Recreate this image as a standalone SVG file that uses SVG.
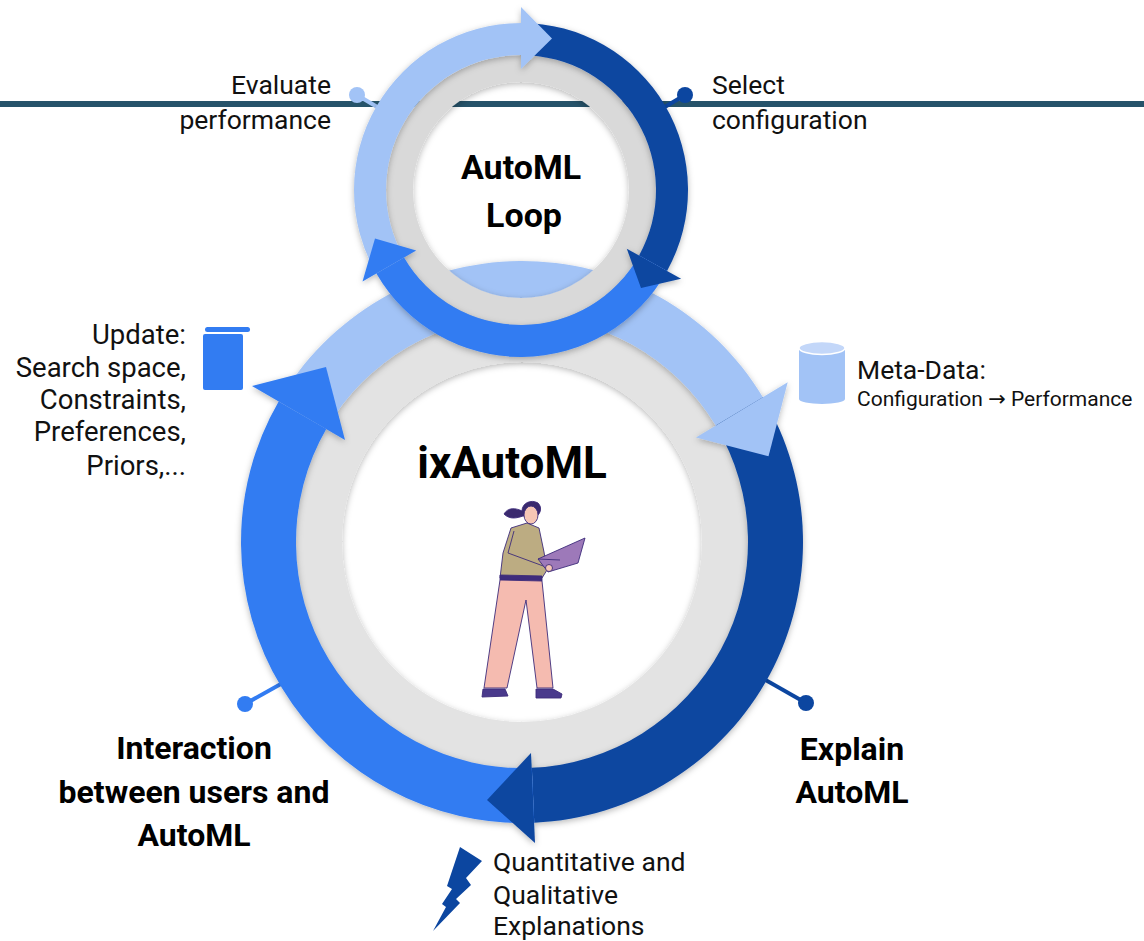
<svg xmlns="http://www.w3.org/2000/svg" width="1144" height="941" viewBox="0 0 1144 941">
  <defs>
    <filter id="shadow" x="-20%" y="-20%" width="140%" height="140%">
      <feDropShadow dx="0" dy="2" stdDeviation="3" flood-color="#000" flood-opacity="0.28"/>
    </filter>
    <style>
      .lbl { font-family: Roboto, "Liberation Sans", sans-serif; font-size: 26.5px; fill: #111; }
      .lbl-lg { font-family: Roboto, "Liberation Sans", sans-serif; font-size: 27.5px; fill: #111; }
      .lbl-sm { font-family: Roboto, "Liberation Sans", sans-serif; font-size: 21px; fill: #111; }
      .arrow-glyph { font-family: "DejaVu Sans", sans-serif; }
      .bold { font-family: Roboto, "Liberation Sans", sans-serif; font-weight: bold; fill: #000; }
      .light { fill: #a2c3f6; }
      .mid { fill: #327cf2; }
      .dark { fill: #0c46a0; }
      .conn { stroke-width: 4; fill: none; }
      .fig { stroke: #3d2b7a; stroke-width: 0.9; stroke-linejoin: round; }
    </style>
  </defs>

  <rect width="1144" height="941" fill="#fff"/>

  <!-- timeline bar -->
  <rect x="0" y="101" width="1144" height="6" fill="#26536a"/>

  <!-- connectors from labels to the rings -->
  <g id="connectors">
    <line class="conn" x1="357" y1="95" x2="384" y2="111" stroke="#a2c3f6"/>
    <circle cx="357" cy="95" r="8" class="light"/>
    <line class="conn" x1="685" y1="95" x2="658" y2="111" stroke="#0c46a0"/>
    <circle cx="685" cy="95" r="8" class="dark"/>
    <line class="conn" x1="245" y1="704" x2="288" y2="680" stroke="#327cf2"/>
    <circle cx="245" cy="704" r="8" class="mid"/>
    <line class="conn" x1="806" y1="703" x2="762" y2="678" stroke="#0c46a0"/>
    <circle cx="806" cy="703" r="8" class="dark"/>
  </g>

  <!-- outer ixAutoML cycle -->
  <g id="ixautoml-ring">
    <circle cx="522" cy="542" r="203" fill="none" stroke="#e3e3e3" stroke-width="46" filter="url(#shadow)"/>
    <g filter="url(#shadow)">
      <path class="light" d="M 278.65,401.5 A 281 281 0 0 1 762.86,397.27 L 715.72,425.6 A 226 226 0 0 0 326.28,429 Z"/>
      <path class="dark" d="M 762.86,397.27 A 281 281 0 0 1 534.26,822.73 L 531.86,767.79 A 226 226 0 0 0 715.72,425.6 Z"/>
      <path class="mid" d="M 534.26,822.73 A 281 281 0 0 1 278.65,401.5 L 326.28,429 A 226 226 0 0 0 531.86,767.79 Z"/>
      <polygon class="light" points="787.7,382.3 696,437.4 768.5,456.2"/>
      <polygon class="dark" points="531,753 535,843 487,800"/>
      <polygon class="mid" points="252,386 345,440 326,367"/>
    </g>
  </g>

  <!-- person with laptop -->
  <g id="person">
    <path class="fig" fill="#3a2a6e" d="M 504,514 C 508,507 516,508 522,511 C 522,503 531,499 538,503 C 543,508 540,515 535,517 L 523,516 C 517,518 510,520 504,514 Z"/>
    <ellipse class="fig" cx="531" cy="515" rx="7" ry="9" fill="#f6c6b5"/>
    <path class="fig" fill="#bcac82" d="M 511,528 L 527,523 L 539,528 L 544,552 L 547,570 L 542,578 L 500,578 L 503,553 Z"/>
    <path class="fig" fill="none" d="M 514,531 L 508,553 L 546,567"/>
    <polygon class="fig" fill="#9d79b9" points="538,559 585,538 578,563 548,572"/>
    <line class="fig" x1="538" y1="559" x2="560" y2="560"/>
    <circle class="fig" cx="549" cy="568" r="3.5" fill="#f6c6b5"/>
    <polygon class="fig" fill="#3e2c7c" points="500,575 542,576 542,581 500,580"/>
    <path class="fig" fill="#f5bbb0" d="M 500,580 L 542,581 L 553,688 L 537,688 L 526,600 L 507,688 L 484,688 Z"/>
    <path class="fig" fill="#4a3a8c" d="M 483,689 L 505,689 L 508,696 L 482,697 Z"/>
    <path class="fig" fill="#4a3a8c" d="M 536,689 L 553,689 L 562,694 L 561,698 L 536,698 Z"/>
  </g>

  <!-- inner AutoML loop -->
  <g id="automl-loop">
    <circle cx="521" cy="190" r="121.5" fill="none" stroke="#d9d9d9" stroke-width="27" filter="url(#shadow)"/>
    <g filter="url(#shadow)">
      <path class="light" d="M 376.37,273.5 A 167 167 0 0 1 521,23 L 521,55 A 135 135 0 0 0 404.09,257.5 Z"/>
      <path class="dark" d="M 521,23 A 167 167 0 0 1 667.06,270.96 L 639.07,255.45 A 135 135 0 0 0 521,55 Z"/>
      <path class="mid" d="M 667.06,270.96 A 167 167 0 0 1 376.37,273.5 L 404.09,257.5 A 135 135 0 0 0 639.07,255.45 Z"/>
      <polygon class="light" points="521,7 521,69 552,38.5"/>
      <polygon class="dark" points="626.8,248.7 681.1,278.7 641,288"/>
      <polygon class="mid" points="416.2,250.5 362.5,281.5 375,238.5"/>
    </g>
    <text class="bold" font-size="34" text-anchor="middle" x="521" y="179">AutoML</text>
    <text class="bold" font-size="34" text-anchor="middle" x="524" y="227">Loop</text>
  </g>

  <g id="ixautoml-title">
    <text class="bold" font-size="44" text-anchor="middle" x="512" y="478">ixAutoML</text>
  </g>

  <!-- evaluate / select -->
  <g id="evaluate">
    <text class="lbl" text-anchor="end" x="331" y="94">Evaluate</text>
    <text class="lbl" text-anchor="end" x="331" y="129">performance</text>
  </g>
  <g id="select">
    <text class="lbl" x="712" y="94">Select</text>
    <text class="lbl" x="712" y="129">configuration</text>
  </g>

  <!-- update list with book icon -->
  <g id="update">
    <rect x="205" y="327" width="45" height="5" rx="2.5" class="mid"/>
    <rect x="203" y="334" width="40" height="56" rx="2" class="mid"/>
    <text class="lbl-lg" text-anchor="end" x="186" y="344">Update:</text>
    <text class="lbl-lg" text-anchor="end" x="186" y="377">Search space,</text>
    <text class="lbl-lg" text-anchor="end" x="186" y="409">Constraints,</text>
    <text class="lbl-lg" text-anchor="end" x="186" y="441">Preferences,</text>
    <text class="lbl-lg" text-anchor="end" x="186" y="475">Priors,...</text>
  </g>

  <!-- meta-data with database icon -->
  <g id="metadata">
    <path class="light" d="M 799,348 L 799,399 A 23 5 0 0 0 845,399 L 845,348 Z"/>
    <ellipse cx="822" cy="348" rx="23" ry="6.5" fill="#c3d7f9" stroke="#fff" stroke-width="1.5"/>
    <text class="lbl" x="857" y="379">Meta-Data:</text>
    <text class="lbl-sm" x="857" y="406">Configuration <tspan class="arrow-glyph">→</tspan> Performance</text>
  </g>

  <!-- bottom labels -->
  <g id="interaction">
    <text class="bold" font-size="32" text-anchor="middle" x="194" y="759">Interaction</text>
    <text class="bold" font-size="32" text-anchor="middle" x="194" y="803">between users and</text>
    <text class="bold" font-size="32" text-anchor="middle" x="194" y="846">AutoML</text>
  </g>
  <g id="explain">
    <text class="bold" font-size="32" text-anchor="middle" x="852" y="760">Explain</text>
    <text class="bold" font-size="32" text-anchor="middle" x="852" y="803">AutoML</text>
  </g>
  <g id="explanations">
    <polygon class="dark" points="460,847 482,861 466,878 471,885 456,899 460,903 433,931 446,907 442,904 452,889 447,886"/>
    <text class="lbl" x="493" y="871">Quantitative and</text>
    <text class="lbl" x="493" y="904">Qualitative</text>
    <text class="lbl" x="493" y="935">Explanations</text>
  </g>
</svg>
